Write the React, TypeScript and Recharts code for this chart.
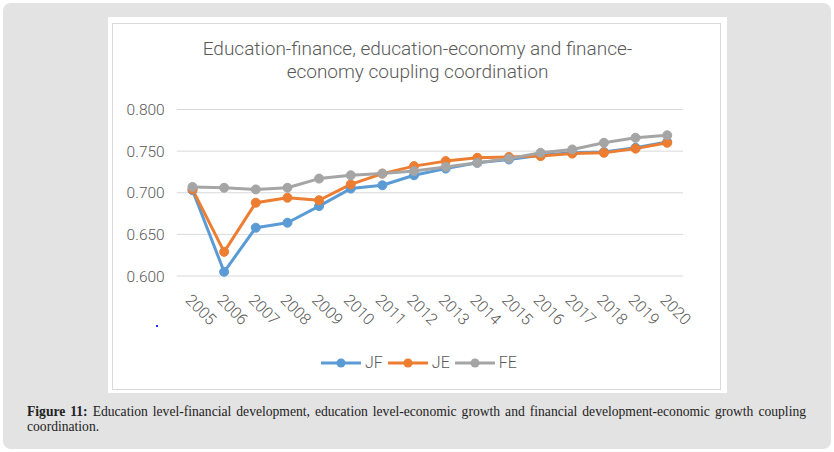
import React from 'react';
import { LineChart, Line, XAxis, YAxis, CartesianGrid, Legend } from 'recharts';

const years = ['2005', '2006', '2007', '2008', '2009', '2010', '2011', '2012', '2013', '2014', '2015', '2016', '2017', '2018', '2019', '2020'];
const jf = [0.703, 0.605, 0.658, 0.664, 0.684, 0.705, 0.709, 0.721, 0.729, 0.736, 0.740, 0.745, 0.748, 0.749, 0.754, 0.761];
const je = [0.704, 0.629, 0.688, 0.694, 0.691, 0.710, 0.723, 0.732, 0.738, 0.742, 0.743, 0.744, 0.747, 0.748, 0.753, 0.760];
const fe = [0.707, 0.706, 0.704, 0.706, 0.717, 0.721, 0.723, 0.726, 0.731, 0.736, 0.741, 0.748, 0.752, 0.760, 0.766, 0.769];
const yTicks = [0.6, 0.65, 0.7, 0.75, 0.8];

const seriesList = [
  { key: 'JF', values: jf, color: '#5B9BD5' },
  { key: 'JE', values: je, color: '#ED7D31' },
  { key: 'FE', values: fe, color: '#A5A5A5' },
];

const data = years.map((year, i) => ({
  year,
  JF: jf[i],
  JE: je[i],
  FE: fe[i],
}));

const FONT = 'Roboto, "Open Sans", sans-serif';
const TEXT = '#595959';

const YearTick = (props: any) => {
  const { x, y, payload } = props;
  return (
    <text
      transform={`translate(${x - 8},${y + 17}) rotate(45)`}
      textAnchor="start"
      fontSize={16}
      fontWeight={300}
      fontFamily={FONT}
      fill={TEXT}
    >
      {payload.value}
    </text>
  );
};

const LegendContent = () => (
  <div style={{ display: 'flex', alignItems: 'center', fontFamily: FONT, fontSize: 16, fontWeight: 300, color: TEXT }}>
    {seriesList.map(s => (
      <div key={s.key} style={{ display: 'flex', alignItems: 'center', marginRight: 5 }}>
        <svg width={40} height={12}>
          <line x1={0} y1={6} x2={40} y2={6} stroke={s.color} strokeWidth={3} />
          <circle cx={20} cy={6} r={4.5} fill={s.color} />
        </svg>
        <span style={{ marginLeft: 4 }}>{s.key}</span>
      </div>
    ))}
  </div>
);

export default function App() {
  return (
    <div style={{ position: 'absolute', left: 0, top: 0, width: 834, height: 452, background: '#fff' }}>
      <div style={{ position: 'absolute', left: 3, top: 3, width: 828, height: 446, borderRadius: 8, background: '#e3e3e3' }} />
      <div style={{ position: 'absolute', left: 108, top: 17, width: 619, height: 376, background: '#fff' }}>
        <div style={{ position: 'absolute', left: 4, top: 6, width: 607, height: 365, border: '1px solid #d9d9d9' }} />
        <div
          style={{
            position: 'absolute',
            left: 0,
            top: 20,
            width: 619,
            textAlign: 'center',
            fontFamily: FONT,
            fontWeight: 300,
            fontSize: 19,
            lineHeight: '23px',
            color: TEXT,
          }}
        >
          Education-finance, education-economy and finance-
          <br />
          economy coupling coordination
        </div>
        <div style={{ position: 'absolute', left: 48, top: 308, width: 2, height: 2, background: '#2233ee' }} />
        <LineChart width={619} height={376} data={data} margin={{ top: 92.5, right: 44, left: 8, bottom: 57 }}>
          <CartesianGrid vertical={false} stroke="#d9d9d9" />
          <XAxis
            dataKey="year"
            axisLine={false}
            tickLine={false}
            interval={0}
            height={60}
            padding={{ left: 15.8, right: 15.8 }}
            tick={<YearTick />}
          />
          <YAxis
            domain={[0.6, 0.8]}
            ticks={yTicks}
            axisLine={false}
            tickLine={false}
            tickMargin={6}
            width={60.7}
            tickFormatter={(v: number) => v.toFixed(3)}
            tick={{ fontSize: 15.5, fontFamily: FONT, fontWeight: 300, fill: TEXT }}
          />
          <Legend
            layout="horizontal"
            verticalAlign="middle"
            content={<LegendContent />}
            wrapperStyle={{ left: 213, top: 336, width: 320 }}
          />
          {seriesList.map(s => (
            <Line
              key={s.key}
              type="linear"
              dataKey={s.key}
              stroke={s.color}
              strokeWidth={3}
              strokeLinejoin="round"
              dot={{ r: 4.5, fill: s.color, stroke: s.color, strokeWidth: 1 }}
              isAnimationActive={false}
            />
          ))}
        </LineChart>
      </div>
      <div
        style={{
          position: 'absolute',
          left: 27,
          top: 405,
          width: 779,
          fontFamily: '"Liberation Serif", "DejaVu Serif", serif',
          fontSize: 13.6,
          lineHeight: '14.5px',
          color: '#222',
        }}
      >
        <div style={{ textAlign: 'justify', textAlignLast: 'justify', whiteSpace: 'nowrap' }}>
          <b>Figure 11:</b> Education level-financial development, education level-economic growth and financial development-economic growth coupling
        </div>
        <div>coordination.</div>
      </div>
    </div>
  );
}
